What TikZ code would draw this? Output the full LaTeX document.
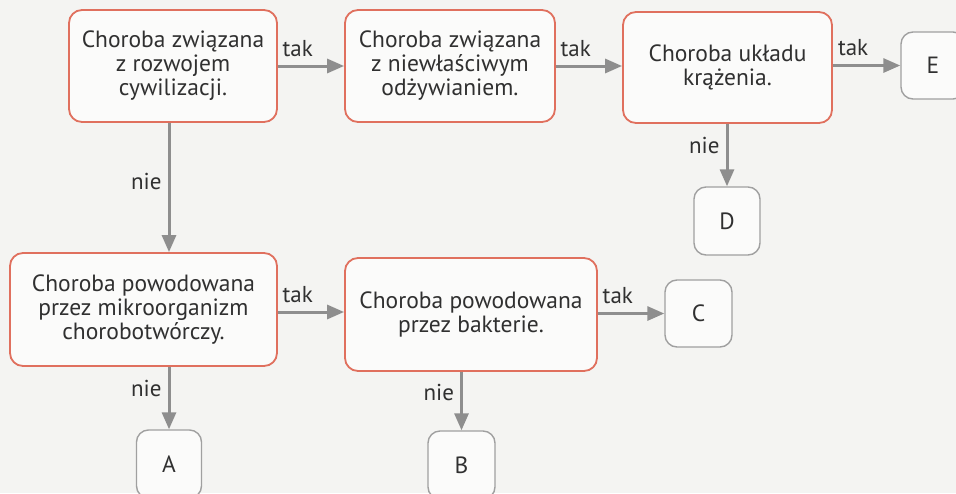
\documentclass[tikz,border=0pt]{standalone}
\usepackage{fontspec}
\setmainfont{PT Sans}
\usetikzlibrary{arrows.meta}
\definecolor{paper}{HTML}{F4F4F2}
\definecolor{boxred}{HTML}{E0705E}
\definecolor{txt}{HTML}{303030}
\definecolor{arr}{HTML}{8E8E8E}
\definecolor{small}{HTML}{A0A0A0}
\tikzset{
  qbox/.style={draw=boxred, line width=1.8pt, rounded corners=13pt, fill=white!60!paper,
    align=center, text=txt, font=\fontsize{23.5}{24}\selectfont, inner sep=0pt},
  abox/.style={draw=small, line width=1.4pt, rounded corners=12pt, fill=white!60!paper,
    text=txt, font=\fontsize{23.5}{24}\selectfont, inner sep=0pt},
  conn/.style={draw=arr, line width=3pt, -{Triangle[length=17pt,width=14pt]}},
  lab/.style={text=txt, font=\fontsize{23}{24}\selectfont, inner sep=1pt},
  labup/.style={lab, above=7pt},
  lableft/.style={lab, left=5pt}
}
\begin{document}
\begin{tikzpicture}[x=1pt,y=-1pt]
\fill[paper] (0,0) rectangle (956,493);
\useasboundingbox (0,0) rectangle (956,493);
\clip (0,0) rectangle (956,493);
\node[qbox, minimum width=208pt, minimum height=112pt] (b1) at (173,66) {Choroba związana\\z rozwojem\\cywilizacji.};
\node[qbox, minimum width=210pt, minimum height=112pt] (b2) at (450,66) {Choroba związana\\z niewłaściwym\\odżywianiem.};
\node[qbox, minimum width=209pt, minimum height=111pt] (b3) at (727.5,67.5) {Choroba układu\\krążenia.};
\node[abox, minimum width=64pt, minimum height=67pt] (E) at (933,65.5) {E};
\node[abox, minimum width=66pt, minimum height=68pt] (D) at (727,221) {D};
\node[qbox, minimum width=267pt, minimum height=113pt] (b4) at (143.5,309.5) {Choroba powodowana\\przez mikroorganizm\\chorobotwórczy.};
\node[qbox, minimum width=252pt, minimum height=113pt] (b5) at (471,314.5) {Choroba powodowana\\przez bakterie.};
\node[abox, minimum width=67pt, minimum height=67pt] (C) at (698.5,313.5) {C};
\node[abox, minimum width=65pt, minimum height=68pt] (A) at (169,464) {A};
\node[abox, minimum width=67pt, minimum height=68pt] (B) at (461.5,465) {B};

\draw[conn] (b1.east) -- (b2.west) node[labup, pos=0.3] {tak};
\draw[conn] (b2.east) -- (b2.east -| b3.west) node[labup, pos=0.3] {tak};
\draw[conn] (b3.east |- E.west) -- (E.west) node[labup, pos=0.3] {tak};
\draw[conn] (b3.south -| D.north) -- (D.north) node[lableft, pos=0.35] {nie};
\draw[conn] (b1.south -| A.north) -- (b4.north -| A.north) node[lableft, pos=0.45] {nie};
\draw[conn] (b4.east) ++(0,2.5) coordinate (p4) -- (p4 -| b5.west) node[labup, pos=0.3] {tak};
\draw[conn] (b5.east |- C.west) -- (C.west) node[labup, pos=0.3] {tak};
\draw[conn] (b4.south -| A.north) -- (A.north) node[lableft, pos=0.35] {nie};
\draw[conn] (b5.south -| B.north) -- (B.north) node[lableft, pos=0.35] {nie};
\end{tikzpicture}
\end{document}
